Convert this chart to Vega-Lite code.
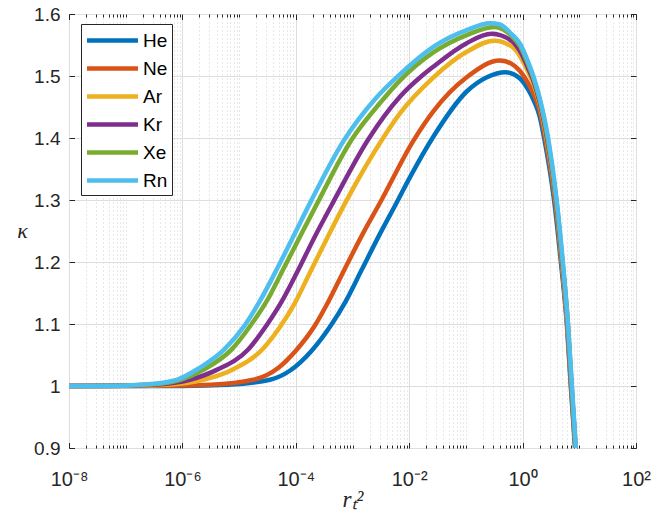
{
  "$schema": "https://vega.github.io/schema/vega-lite/v6.json",
  "width": 567,
  "height": 434,
  "autosize": {"type": "none"},
  "padding": {"left": 69, "top": 14, "right": 16, "bottom": 72},
  "background": "white",
  "config": {
    "view": {"stroke": "#262626", "strokeWidth": 1},
    "font": "Liberation Sans",
    "axis": {"domain": false, "labelColor": "#262626", "tickColor": "#262626", "labelFont": "Liberation Sans", "tickWidth": 1}
  },
  "data": {"values": [
    {"g":"He","x":1e-8,"k":1.0},{"g":"He","x":1e-6,"k":1.0002},{"g":"He","x":6.31e-6,"k":1.002},{"g":"He","x":3.508e-5,"k":1.010},{"g":"He","x":7.943e-5,"k":1.025},{"g":"He","x":1.905e-4,"k":1.057},{"g":"He","x":4.169e-4,"k":1.098},{"g":"He","x":7.413e-4,"k":1.135},{"g":"He","x":1.445e-3,"k":1.187},{"g":"He","x":2.951e-3,"k":1.243},{"g":"He","x":6.026e-3,"k":1.296},{"g":"He","x":1.023e-2,"k":1.336},{"g":"He","x":2.661e-2,"k":1.402},{"g":"He","x":0.1033,"k":1.475},{"g":"He","x":0.2344,"k":1.498},{"g":"He","x":0.5012,"k":1.506},{"g":"He","x":0.8995,"k":1.496},{"g":"He","x":1.259,"k":1.478},{"g":"He","x":1.585,"k":1.46},{"g":"He","x":1.995,"k":1.435},{"g":"He","x":2.399,"k":1.40},{"g":"He","x":3.589,"k":1.30},{"g":"He","x":4.732,"k":1.20},{"g":"He","x":6.026,"k":1.10},{"g":"He","x":7.079,"k":1.00},{"g":"He","x":8.414,"k":0.90},
    {"g":"Ne","x":1e-8,"k":1.0},{"g":"Ne","x":3.162e-7,"k":1.0003},{"g":"Ne","x":3.162e-6,"k":1.002},{"g":"Ne","x":1.778e-5,"k":1.010},{"g":"Ne","x":5.012e-5,"k":1.030},{"g":"Ne","x":1e-4,"k":1.057},{"g":"Ne","x":2.188e-4,"k":1.098},{"g":"Ne","x":3.508e-4,"k":1.131},{"g":"Ne","x":7.413e-4,"k":1.19},{"g":"Ne","x":1.549e-3,"k":1.247},{"g":"Ne","x":3.162e-3,"k":1.298},{"g":"Ne","x":1.175e-2,"k":1.395},{"g":"Ne","x":2.661e-2,"k":1.443},{"g":"Ne","x":0.1033,"k":1.498},{"g":"Ne","x":0.3981,"k":1.525},{"g":"Ne","x":0.631,"k":1.520},{"g":"Ne","x":0.8995,"k":1.508},{"g":"Ne","x":1.259,"k":1.488},{"g":"Ne","x":1.585,"k":1.47},{"g":"Ne","x":1.995,"k":1.445},{"g":"Ne","x":2.512,"k":1.40},{"g":"Ne","x":3.715,"k":1.30},{"g":"Ne","x":4.842,"k":1.20},{"g":"Ne","x":6.095,"k":1.10},{"g":"Ne","x":7.161,"k":1.00},{"g":"Ne","x":8.511,"k":0.90},
    {"g":"Ar","x":1e-8,"k":1.0},{"g":"Ar","x":1e-7,"k":1.0003},{"g":"Ar","x":5.012e-7,"k":1.002},{"g":"Ar","x":2.344e-6,"k":1.010},{"g":"Ar","x":7.943e-6,"k":1.027},{"g":"Ar","x":2.692e-5,"k":1.061},{"g":"Ar","x":5.248e-5,"k":1.095},{"g":"Ar","x":9.772e-5,"k":1.135},{"g":"Ar","x":1.778e-4,"k":1.183},{"g":"Ar","x":3.631e-4,"k":1.24},{"g":"Ar","x":7.413e-4,"k":1.295},{"g":"Ar","x":3.467e-3,"k":1.40},{"g":"Ar","x":6.918e-3,"k":1.44},{"g":"Ar","x":2.63e-2,"k":1.497},{"g":"Ar","x":0.1033,"k":1.539},{"g":"Ar","x":0.3162,"k":1.557},{"g":"Ar","x":0.631,"k":1.548},{"g":"Ar","x":0.8995,"k":1.532},{"g":"Ar","x":1.259,"k":1.506},{"g":"Ar","x":1.585,"k":1.485},{"g":"Ar","x":1.995,"k":1.455},{"g":"Ar","x":2.63,"k":1.40},{"g":"Ar","x":3.846,"k":1.30},{"g":"Ar","x":4.955,"k":1.20},{"g":"Ar","x":6.166,"k":1.10},{"g":"Ar","x":7.244,"k":1.00},{"g":"Ar","x":8.61,"k":0.90},
    {"g":"Kr","x":1e-8,"k":1.0},{"g":"Kr","x":1e-7,"k":1.0005},{"g":"Kr","x":3.162e-7,"k":1.002},{"g":"Kr","x":1.349e-6,"k":1.010},{"g":"Kr","x":4.027e-6,"k":1.026},{"g":"Kr","x":1.445e-5,"k":1.059},{"g":"Kr","x":3.162e-5,"k":1.10},{"g":"Kr","x":5.623e-5,"k":1.136},{"g":"Kr","x":1.047e-4,"k":1.183},{"g":"Kr","x":2.138e-4,"k":1.24},{"g":"Kr","x":4.467e-4,"k":1.295},{"g":"Kr","x":1.905e-3,"k":1.398},{"g":"Kr","x":6.918e-3,"k":1.467},{"g":"Kr","x":1.66e-2,"k":1.50},{"g":"Kr","x":2.661e-2,"k":1.515},{"g":"Kr","x":0.1033,"k":1.553},{"g":"Kr","x":0.2818,"k":1.568},{"g":"Kr","x":0.631,"k":1.557},{"g":"Kr","x":0.8995,"k":1.540},{"g":"Kr","x":1.259,"k":1.512},{"g":"Kr","x":1.585,"k":1.49},{"g":"Kr","x":1.995,"k":1.458},{"g":"Kr","x":2.692,"k":1.40},{"g":"Kr","x":3.89,"k":1.30},{"g":"Kr","x":5.012,"k":1.20},{"g":"Kr","x":6.237,"k":1.10},{"g":"Kr","x":7.244,"k":1.00},{"g":"Kr","x":8.61,"k":0.90},
    {"g":"Xe","x":1e-8,"k":1.0},{"g":"Xe","x":3.162e-8,"k":1.0},{"g":"Xe","x":3.162e-7,"k":1.003},{"g":"Xe","x":9.333e-7,"k":1.010},{"g":"Xe","x":2.344e-6,"k":1.026},{"g":"Xe","x":7.413e-6,"k":1.059},{"g":"Xe","x":1.66e-5,"k":1.10},{"g":"Xe","x":3.162e-5,"k":1.139},{"g":"Xe","x":5.623e-5,"k":1.183},{"g":"Xe","x":1.202e-4,"k":1.242},{"g":"Xe","x":2.399e-4,"k":1.295},{"g":"Xe","x":9.772e-4,"k":1.398},{"g":"Xe","x":3.162e-3,"k":1.458},{"g":"Xe","x":6.918e-3,"k":1.493},{"g":"Xe","x":2.661e-2,"k":1.538},{"g":"Xe","x":0.1033,"k":1.566},{"g":"Xe","x":0.3162,"k":1.579},{"g":"Xe","x":0.631,"k":1.565},{"g":"Xe","x":0.8995,"k":1.548},{"g":"Xe","x":1.259,"k":1.518},{"g":"Xe","x":1.585,"k":1.494},{"g":"Xe","x":1.995,"k":1.462},{"g":"Xe","x":2.754,"k":1.40},{"g":"Xe","x":3.936,"k":1.30},{"g":"Xe","x":5.07,"k":1.20},{"g":"Xe","x":6.31,"k":1.10},{"g":"Xe","x":7.328,"k":1.00},{"g":"Xe","x":8.61,"k":0.90},
    {"g":"Rn","x":1e-8,"k":1.0},{"g":"Rn","x":3.162e-8,"k":1.0},{"g":"Rn","x":2.512e-7,"k":1.003},{"g":"Rn","x":7.943e-7,"k":1.010},{"g":"Rn","x":1.995e-6,"k":1.029},{"g":"Rn","x":5.495e-6,"k":1.059},{"g":"Rn","x":1.259e-5,"k":1.098},{"g":"Rn","x":2.291e-5,"k":1.136},{"g":"Rn","x":4.266e-5,"k":1.182},{"g":"Rn","x":8.913e-5,"k":1.24},{"g":"Rn","x":1.778e-4,"k":1.295},{"g":"Rn","x":6.918e-4,"k":1.395},{"g":"Rn","x":2.512e-3,"k":1.463},{"g":"Rn","x":6.918e-3,"k":1.503},{"g":"Rn","x":2.661e-2,"k":1.547},{"g":"Rn","x":0.1033,"k":1.574},{"g":"Rn","x":0.2661,"k":1.585},{"g":"Rn","x":0.3981,"k":1.583},{"g":"Rn","x":0.631,"k":1.568},{"g":"Rn","x":0.8995,"k":1.552},{"g":"Rn","x":1.259,"k":1.522},{"g":"Rn","x":1.585,"k":1.497},{"g":"Rn","x":1.995,"k":1.465},{"g":"Rn","x":2.818,"k":1.40},{"g":"Rn","x":3.981,"k":1.30},{"g":"Rn","x":5.129,"k":1.20},{"g":"Rn","x":6.31,"k":1.10},{"g":"Rn","x":7.413,"k":1.00},{"g":"Rn","x":8.71,"k":0.90}
  ]},
  "resolve": {"axis": {"x": "independent", "y": "independent"}},
  "layer": [
    {
      "mark": {"type": "line", "opacity": 0},
      "encoding": {
        "x": {"field": "x", "type": "quantitative", "scale": {"type": "log", "domain": [1e-8, 100], "nice": false},
          "axis": {"orient": "bottom", "title": null, "labels": false, "tickSize": -3, "grid": true, "gridColor": "#c4c4c4", "gridDash": [1, 3], "gridWidth": 0.8,
            "values": [2e-8,3e-8,4e-8,5e-8,6e-8,7e-8,8e-8,9e-8,1e-7,2e-7,3e-7,4e-7,5e-7,6e-7,7e-7,8e-7,9e-7,2e-6,3e-6,4e-6,5e-6,6e-6,7e-6,8e-6,9e-6,1e-5,2e-5,3e-5,4e-5,5e-5,6e-5,7e-5,8e-5,9e-5,2e-4,3e-4,4e-4,5e-4,6e-4,7e-4,8e-4,9e-4,1e-3,2e-3,3e-3,4e-3,5e-3,6e-3,7e-3,8e-3,9e-3,2e-2,3e-2,4e-2,5e-2,6e-2,7e-2,8e-2,9e-2,0.1,0.2,0.3,0.4,0.5,0.6,0.7,0.8,0.9,2,3,4,5,6,7,8,9,10,20,30,40,50,60,70,80,90]}},
        "y": {"field": "k", "type": "quantitative", "scale": {"domain": [0.9, 1.6], "nice": false, "zero": false}, "axis": null}
      }
    },
    {
      "mark": {"type": "line", "opacity": 0},
      "encoding": {
        "x": {"field": "x", "type": "quantitative", "scale": {"type": "log", "domain": [1e-8, 100], "nice": false},
          "axis": {"orient": "top", "title": null, "labels": false, "tickSize": -3, "grid": false,
            "values": [2e-8,3e-8,4e-8,5e-8,6e-8,7e-8,8e-8,9e-8,1e-7,2e-7,3e-7,4e-7,5e-7,6e-7,7e-7,8e-7,9e-7,2e-6,3e-6,4e-6,5e-6,6e-6,7e-6,8e-6,9e-6,1e-5,2e-5,3e-5,4e-5,5e-5,6e-5,7e-5,8e-5,9e-5,2e-4,3e-4,4e-4,5e-4,6e-4,7e-4,8e-4,9e-4,1e-3,2e-3,3e-3,4e-3,5e-3,6e-3,7e-3,8e-3,9e-3,2e-2,3e-2,4e-2,5e-2,6e-2,7e-2,8e-2,9e-2,0.1,0.2,0.3,0.4,0.5,0.6,0.7,0.8,0.9,2,3,4,5,6,7,8,9,10,20,30,40,50,60,70,80,90]}},
        "y": {"field": "k", "type": "quantitative", "scale": {"domain": [0.9, 1.6], "nice": false, "zero": false}, "axis": null}
      }
    },
    {
      "mark": {"type": "line", "opacity": 0},
      "encoding": {
        "x": {"field": "x", "type": "quantitative", "scale": {"type": "log", "domain": [1e-8, 100], "nice": false},
          "axis": {"orient": "top", "title": null, "labels": false, "tickSize": -5.5, "grid": false, "values": [1e-8, 1e-6, 1e-4, 1e-2, 1, 100]}},
        "y": {"field": "k", "type": "quantitative", "scale": {"domain": [0.9, 1.6], "nice": false, "zero": false},
          "axis": {"orient": "right", "title": null, "labels": false, "tickSize": -5.5, "grid": false, "values": [0.9, 1.0, 1.1, 1.2, 1.3, 1.4, 1.5, 1.6]}}
      }
    },
    {
      "mark": {"type": "line", "strokeWidth": 4.5, "interpolate": "monotone", "clip": true},
      "encoding": {
        "x": {"field": "x", "type": "quantitative", "scale": {"type": "log", "domain": [1e-8, 100], "nice": false},
          "axis": {"orient": "bottom", "values": [1e-8, 1e-6, 1e-4, 1e-2, 1, 100], "tickSize": -5.5, "grid": true, "gridColor": "#dedede", "gridWidth": 1,
            "labelFontSize": 20, "labelPadding": 27, "labelFlush": false, "labelOverlap": false,
            "labelExpr": "datum.value < 5e-8 ? '10⁻⁸' : datum.value < 5e-6 ? '10⁻⁶' : datum.value < 5e-4 ? '10⁻⁴' : datum.value < 5e-2 ? '10⁻²' : datum.value < 5 ? '10⁰' : '10²'",
            "title": "rₜ²", "titleFont": "Liberation Serif", "titleFontStyle": "italic", "titleFontWeight": "normal", "titleFontSize": 23, "titleColor": "#262626",
            "titleX": 283.5, "titleY": 51, "titleBaseline": "middle", "titleAlign": "center"}},
        "y": {"field": "k", "type": "quantitative", "scale": {"domain": [0.9, 1.6], "nice": false, "zero": false},
          "axis": {"orient": "left", "values": [0.9, 1.0, 1.1, 1.2, 1.3, 1.4, 1.5, 1.6], "tickSize": -5.5, "grid": true, "gridColor": "#dedede", "gridWidth": 1,
            "labelFontSize": 19, "labelPadding": 14.5, "labelExpr": "format(datum.value, '~g')",
            "title": "κ", "titleFont": "Liberation Serif", "titleFontStyle": "italic", "titleFontWeight": "normal", "titleFontSize": 22, "titleColor": "#262626",
            "titleAngle": 0, "titleX": -47, "titleY": 216, "titleBaseline": "middle", "titleAlign": "center"}},
        "color": {"field": "g", "type": "nominal",
          "scale": {"domain": ["He", "Ne", "Ar", "Kr", "Xe", "Rn"], "range": ["#0072BD", "#D95319", "#EDB120", "#7E2F8E", "#77AC30", "#4DBEEE"]},
          "legend": {"orient": "none", "legendX": 12, "legendY": 10, "title": null,
            "symbolType": "M-2.5,0H2.5", "symbolSize": 416, "symbolStrokeWidth": 4.5,
            "labelFontSize": 19, "labelFont": "Liberation Sans", "labelColor": "#000000",
            "strokeColor": "#262626", "fillColor": "white", "padding": 4,
            "symbolOffset": 15, "labelOffset": 18, "rowPadding": 5}}
      }
    }
  ]
}
